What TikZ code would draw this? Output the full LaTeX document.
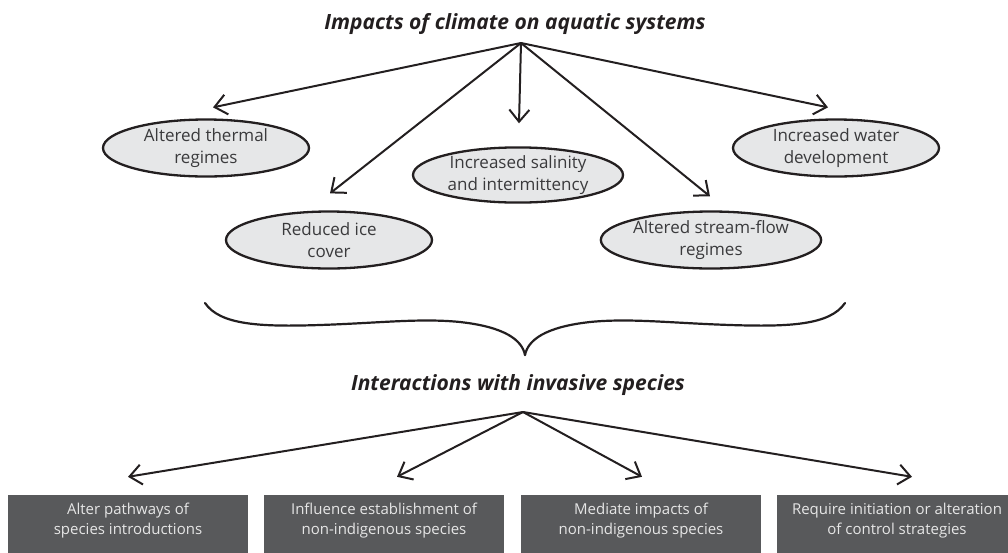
\documentclass[tikz,border=0pt]{standalone}
\usepackage{fontspec}
\setmainfont{Open Sans}
\usetikzlibrary{arrows.meta,shapes.geometric,calc}

\definecolor{ink}{HTML}{231F20}
\definecolor{ovalfill}{HTML}{E6E7E8}
\definecolor{ovaltext}{HTML}{3A3A3C}
\definecolor{boxfill}{HTML}{58595B}
\definecolor{boxtext}{HTML}{E6E6E6}

\tikzset{
  heading/.style={font=\fontsize{21}{25}\selectfont\bfseries\itshape, text=ink, inner sep=0pt},
  oval/.style={ellipse, draw=ink, line width=2.3pt, fill=ovalfill,
    minimum width=206pt, minimum height=57pt, inner sep=0pt, align=center,
    text=ovaltext, font=\fontsize{17}{22}\selectfont},
  effect/.style={rectangle, fill=boxfill, minimum width=240pt, minimum height=52pt,
    inner sep=0pt, align=center, text=boxtext, font=\fontsize{15}{20}\selectfont},
  arr/.style={draw=ink, line width=2pt, -{Straight Barb[length=12pt,width=20pt]}},
  bracepath/.style={draw=ink, line width=2.2pt, line cap=round}
}

\begin{document}
\begin{tikzpicture}[x=1pt,y=-1pt]
  \useasboundingbox (0,0) rectangle (1008,552);
  \clip (0,0) rectangle (1008,552);

  % upper heading and its fan of arrows
  \node[heading, anchor=base] (title) at (515,29) {Impacts of climate on aquatic systems};
  \coordinate (top) at (521,43);

  \node[oval] (thermal)  at (206,148) {Altered thermal\\regimes};
  \node[oval] (ice)      at (329,240) {Reduced ice\\cover};
  \node[oval, minimum width=210pt, minimum height=55pt] (salinity) at (518,175) {Increased salinity\\and intermittency};
  \node[oval] (flow)     at (711,240) {Altered stream-flow\\regimes};
  \node[oval] (water)    at (836,148) {Increased water\\development};

  \draw[arr] (top) -- ([xshift=7pt,yshift=11pt]thermal.north);
  \draw[arr] (top) -- ([xshift=1pt,yshift=17pt]ice.north);
  \draw[arr] (top) -- ([xshift=1pt,yshift=23pt]salinity.north);
  \draw[arr] (top) -- ([xshift=-1pt,yshift=14pt]flow.north);
  \draw[arr] (top) -- ([xshift=-8pt,yshift=11pt]water.north);

  % curly brace gathering the impacts
  \coordinate (bl) at (205,303);
  \coordinate (br) at (845,303);
  \coordinate (btip) at (525,355);
  \draw[bracepath] (bl) .. controls (220,325) and (260,327) .. (320,325)
        .. controls (380,323) and (420,318) .. (460,322)
        .. controls (505,327) and (522,340) .. (btip);
  \draw[bracepath] (br) .. controls (830,325) and (790,327) .. (730,325)
        .. controls (670,323) and (630,318) .. (590,322)
        .. controls (545,327) and (528,340) .. (btip);

  % lower heading and its arrows
  \node[heading, anchor=base] (sub) at (518,390) {Interactions with invasive species};
  \coordinate (hub) at (523,412);

  \node[effect] (path)    at (128,521) {Alter pathways of\\species introductions};
  \node[effect] (estab)   at (384,521) {Influence establishment of\\non-indigenous species};
  \node[effect] (mediate) at (641,521) {Mediate impacts of\\non-indigenous species};
  \node[effect] (control) at (897,521) {Require initiation or alteration\\of control strategies};
  \foreach \b in {path,estab,mediate,control}
    \fill[boxfill] ([yshift=1pt]\b.south west) rectangle ([yshift=-8pt]\b.south east);

  \draw[arr] (hub) -- ([yshift=18pt]path.north);
  \draw[arr] (hub) -- ([xshift=13pt,yshift=18pt]estab.north);
  \draw[arr] (hub) -- ([xshift=1pt,yshift=18pt]mediate.north);
  \draw[arr] (hub) -- ([xshift=15pt,yshift=18pt]control.north);
\end{tikzpicture}
\end{document}
